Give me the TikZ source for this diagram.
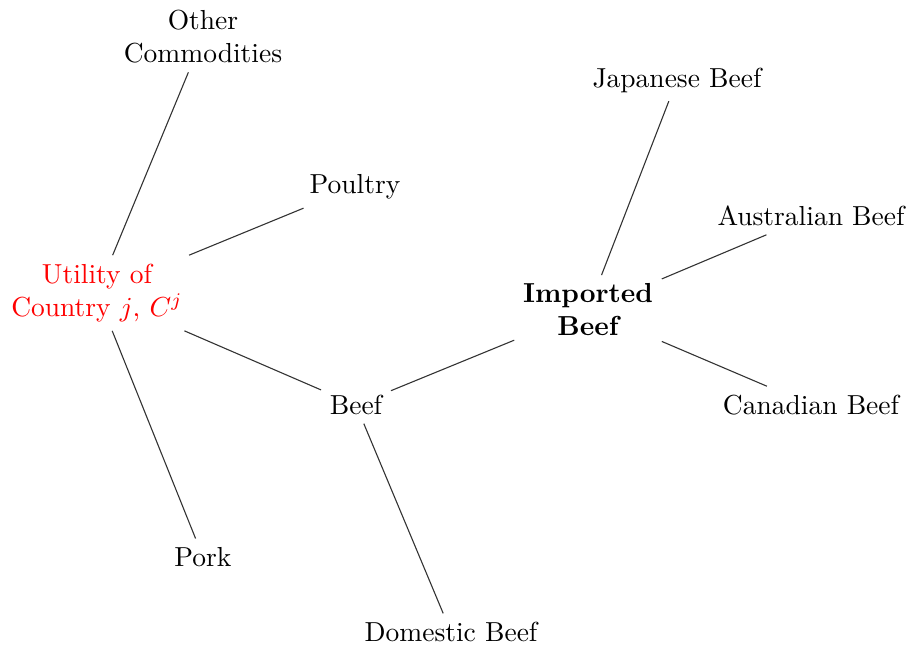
\documentclass[tikz,border=0pt]{standalone}
\usepackage{xcolor}
\usepackage{tikz}

\begin{document}
\begin{tikzpicture}[x=0.3636pt, y=-0.3636pt,
  item/.style={align=center, inner sep=3pt},
  link/.style={draw=black!80, thin}]
\useasboundingbox (0,0) rectangle (911,649);

% utility branch
\node[item, red] (util) at (97,293) {Utility of\\Country $j$, $C^j$};
\node[item] (other) at (203,37) {Other\\Commodities};
\node[item] (poultry) at (355,187) {Poultry};
\node[item] (pork) at (203,557) {Pork};
\node[item] (beef) at (356,405) {Beef};

% beef branch
\node[item] (domestic) at (451,632) {Domestic Beef};
\node[item, font=\bfseries] (imported) at (588,310) {Imported\\Beef};

% imported beef branch
\node[item] (japan) at (677,80) {Japanese Beef};
\node[item] (austr) at (811,216) {Australian Beef};
\node[item] (canada) at (811,405) {Canadian Beef};

\draw[link] (util) -- (other);
\draw[link] (util) -- (poultry);
\draw[link] (util) -- (beef);
\draw[link] (util) -- (pork);
\draw[link] (beef) -- (imported);
\draw[link] (beef) -- (domestic);
\draw[link] (imported) -- (japan);
\draw[link] (imported) -- (austr);
\draw[link] (imported) -- (canada);
\end{tikzpicture}
\end{document}
